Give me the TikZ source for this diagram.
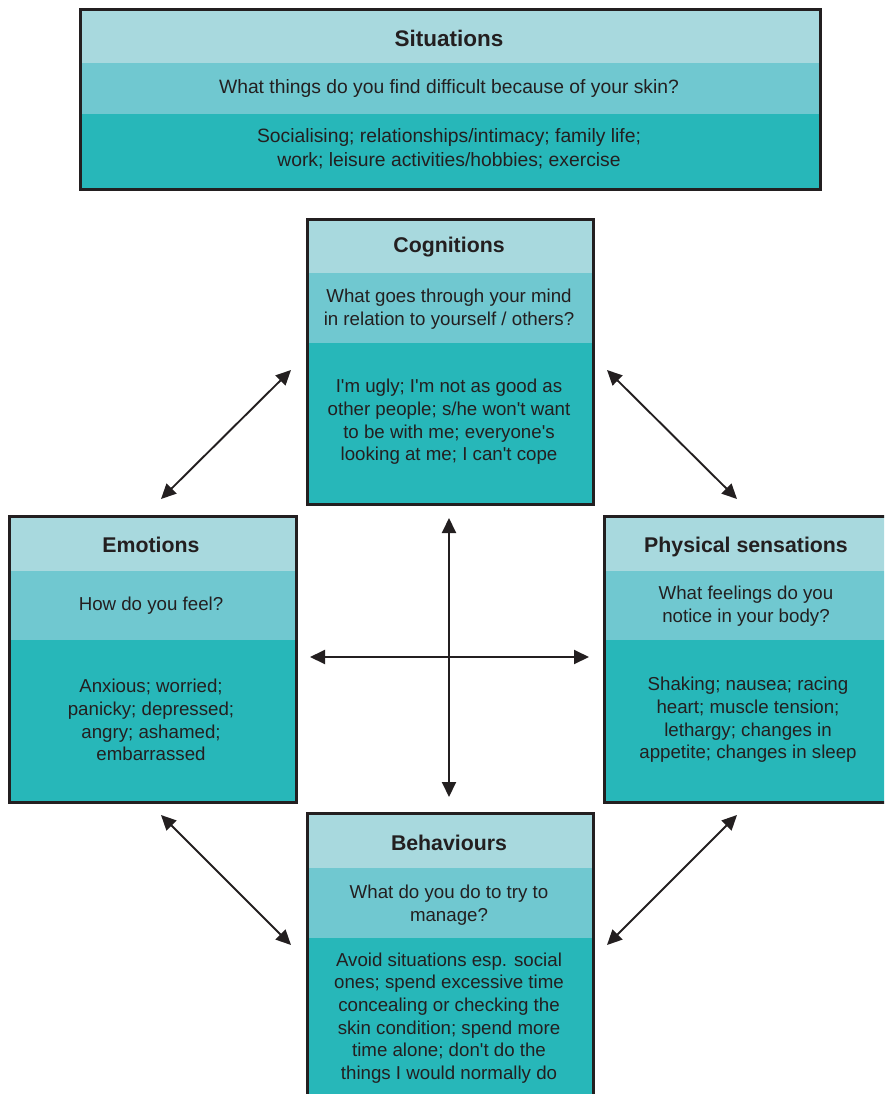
\documentclass[tikz,border=0pt]{standalone}
\usepackage{fontspec}
\setmainfont{Liberation Sans}
\usetikzlibrary{arrows.meta}
\definecolor{bandA}{HTML}{A8D9DE}
\definecolor{bandB}{HTML}{70C8D0}
\definecolor{bandC}{HTML}{27B7B9}
\definecolor{ink}{HTML}{231F20}
\newcommand\aq{\textquotesingle}
\tikzset{
  boxline/.style={draw=ink, line width=3pt, inner sep=0pt, anchor=north west},
  titletext/.style={font=\fontsize{21.3}{25}\selectfont\bfseries, text=ink, align=center, inner sep=0pt},
  bodytext/.style={font=\fontsize{18.7}{22.7}\selectfont, text=ink, align=center, inner sep=0pt},
  sittext/.style={font=\fontsize{19.3}{24}\selectfont, text=ink, align=center, inner sep=0pt},
  link/.style={draw=ink, line width=1.9pt, {Triangle[length=15pt,width=14pt]}-{Triangle[length=15pt,width=14pt]}},
}
\begin{document}
\begin{tikzpicture}[x=1pt,y=-1pt]
\useasboundingbox (0,0) rectangle (884,1094);
\clip (0,0) rectangle (884,1094);
% Situations
\fill[bandA] (79,8) rectangle (819,63);
\fill[bandB] (79,63) rectangle (819,114);
\fill[bandC] (79,114) rectangle (819,188);
\node[boxline, minimum width=740pt, minimum height=180pt] (sit) at (79,8) {};
\node[titletext, font=\fontsize{22.5}{26}\selectfont\bfseries] (sit-t) at (449,38) {Situations};
\node[sittext] (sit-q) at (449,89) {What things do you find difficult because of your skin?};
\node[sittext] (sit-c) at (449,149) {Socialising; relationships/intimacy; family life;\\work; leisure activities/hobbies; exercise};
% Cognitions
\fill[bandA] (306,218) rectangle (592,273);
\fill[bandB] (306,273) rectangle (592,343);
\fill[bandC] (306,343) rectangle (592,503);
\node[boxline, minimum width=286pt, minimum height=285pt] (cog) at (306,218) {};
\node[titletext] (cog-t) at (449,247) {Cognitions};
\node[bodytext] (cog-q) at (449,309) {What goes through your mind\\in relation to yourself / others?};
\node[bodytext] (cog-c) at (449,422) {I\aq m ugly; I\aq m not as good as\\other people; s/he won\aq t want\\to be with me; everyone\aq s\\looking at me; I can\aq t cope};
% Emotions
\fill[bandA] (8,515) rectangle (295,571);
\fill[bandB] (8,571) rectangle (295,640);
\fill[bandC] (8,640) rectangle (295,801);
\node[boxline, minimum width=287pt, minimum height=286pt] (emo) at (8,515) {};
\node[titletext] (emo-t) at (151,545) {Emotions};
\node[bodytext] (emo-q) at (151,606) {How do you feel?};
\node[bodytext] (emo-c) at (151,720) {Anxious; worried;\\panicky; depressed;\\angry; ashamed;\\embarrassed};
% Physical sensations
\fill[bandA] (603,515) rectangle (890,571);
\fill[bandB] (603,571) rectangle (890,640);
\fill[bandC] (603,640) rectangle (890,801);
\node[boxline, minimum width=287pt, minimum height=286pt] (phy) at (603,515) {};
\node[titletext] (phy-t) at (746,547) {Physical sensations};
\node[bodytext] (phy-q) at (746,606) {What feelings do you\\notice in your body?};
\node[bodytext] (phy-c) at (748,720) {Shaking; nausea; racing\\heart; muscle tension;\\lethargy; changes in\\appetite; changes in sleep};
% Behaviours
\fill[bandA] (306,812) rectangle (592,868);
\fill[bandB] (306,868) rectangle (592,938);
\fill[bandC] (306,938) rectangle (592,1110);
\node[boxline, minimum width=286pt, minimum height=298pt] (beh) at (306,812) {};
\node[titletext] (beh-t) at (449,843) {Behaviours};
\node[bodytext] (beh-q) at (449,905) {What do you do to try to\\manage?};
\node[bodytext] (beh-c) at (449,1018) {Avoid situations esp. social\\ones; spend excessive time\\concealing or checking the\\skin condition; spend more\\time alone; don\aq t do the\\things I would normally do};
% arrow end points
\coordinate (ce1) at (291,370); \coordinate (ce2) at (161,499);
\coordinate (cp1) at (607,370); \coordinate (cp2) at (737,499);
\coordinate (eb1) at (161,815); \coordinate (eb2) at (291,945);
\coordinate (pb1) at (737,815); \coordinate (pb2) at (607,945);
\coordinate (v1) at (449,518); \coordinate (v2) at (449,797);
\coordinate (h1) at (310,657); \coordinate (h2) at (589,657);
\draw[link] (ce1) -- (ce2);
\draw[link] (cp1) -- (cp2);
\draw[link] (eb1) -- (eb2);
\draw[link] (pb1) -- (pb2);
\draw[link] (v1) -- (v2);
\draw[link] (h1) -- (h2);
\end{tikzpicture}
\end{document}
